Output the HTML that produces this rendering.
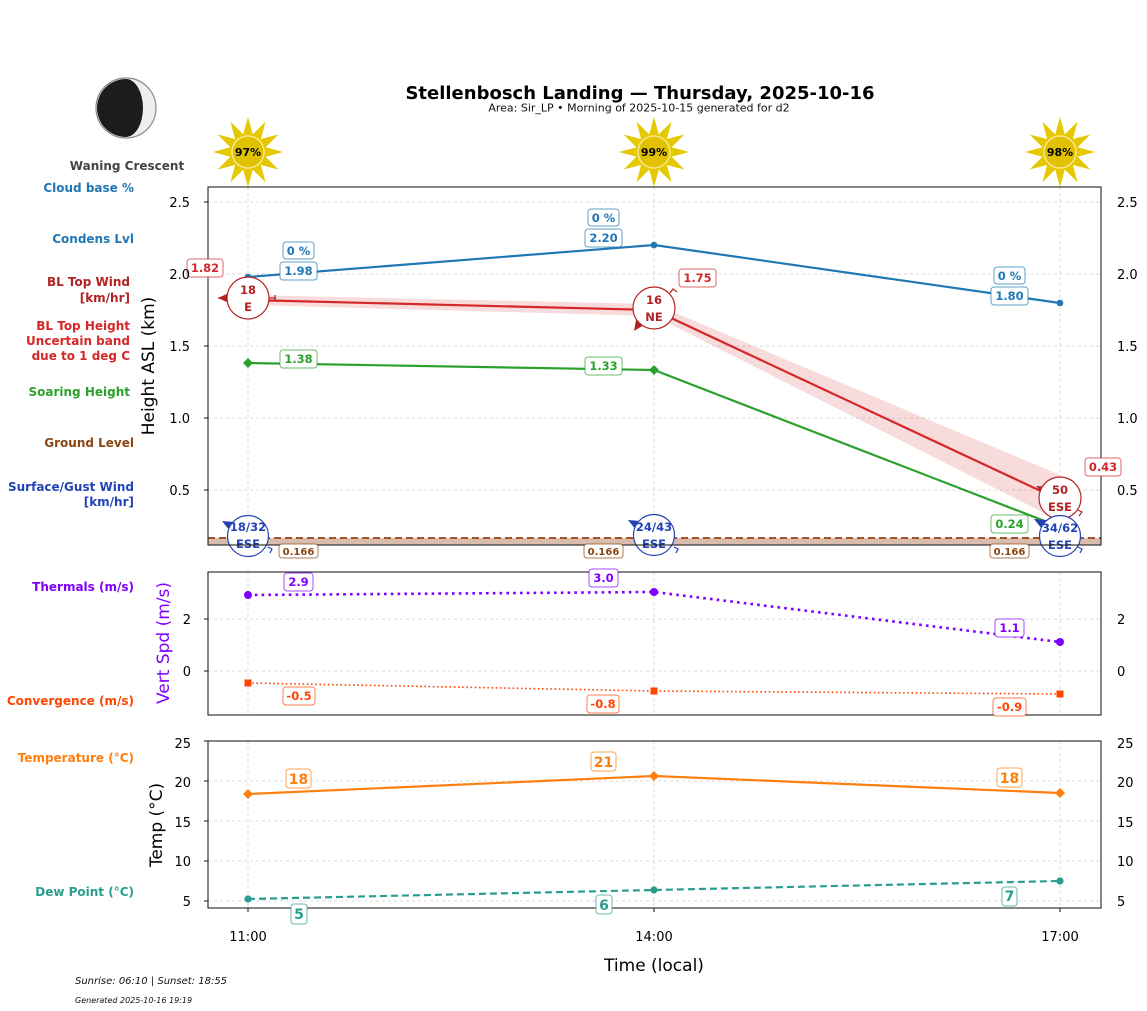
<!DOCTYPE html>
<html><head><meta charset="utf-8"><style>
html,body{margin:0;padding:0;background:#fff;}
svg{display:block;font-family:"DejaVu Sans","Liberation Sans",sans-serif;}
</style></head><body>
<svg width="1147" height="1011" viewBox="0 0 1147 1011" xmlns="http://www.w3.org/2000/svg">
<rect width="1147" height="1011" fill="#fff"/>

<!-- Title -->
<text x="640" y="99" font-size="18" font-weight="bold" text-anchor="middle" fill="#000">Stellenbosch Landing — Thursday, 2025-10-16</text>
<text x="639" y="111.5" font-size="11" text-anchor="middle" fill="#111">Area: Sir_LP • Morning of 2025-10-15 generated for d2</text>

<!-- Moon -->
<circle cx="126" cy="108" r="30" fill="#eeeeee" stroke="#8a8a8a" stroke-width="1.2"/>
<path d="M126,79 A29,29 0 0 0 126,137 A17,29 0 0 0 126,79 Z" fill="#1c1c1c"/>
<text x="127" y="170" font-size="12" font-weight="bold" text-anchor="middle" fill="#444">Waning Crescent</text>

<!-- Left legend labels -->
<g font-size="12" font-weight="bold" text-anchor="end">
<text x="134" y="192" fill="#1f77b4">Cloud base %</text>
<text x="134" y="243" fill="#1f77b4">Condens Lvl</text>
<text x="130" y="286" fill="#b22222">BL Top Wind</text>
<text x="130" y="302" fill="#b22222">[km/hr]</text>
<text x="130" y="330" fill="#d62728">BL Top Height</text>
<text x="130" y="345" fill="#d62728">Uncertain band</text>
<text x="130" y="360" fill="#d62728">due to 1 deg C</text>
<text x="130" y="396" fill="#2ca02c">Soaring Height</text>
<text x="134" y="447" fill="#8b4513">Ground Level</text>
<text x="134" y="491" fill="#2343b5">Surface/Gust Wind</text>
<text x="134" y="506" fill="#2343b5">[km/hr]</text>
<text x="134" y="591" fill="#7f00ff">Thermals (m/s)</text>
<text x="134" y="705" fill="#ff4500">Convergence (m/s)</text>
<text x="134" y="762" fill="#ff7f0e">Temperature (°C)</text>
<text x="134" y="896" fill="#2a9d8f">Dew Point (°C)</text>
</g>

<!-- Suns -->
<g id="sun1" transform="translate(248,152)">
<g fill="#e6c800">
<polygon points="0,-35 -6,-13 6,-13"/>
<polygon points="0,-35 -6,-13 6,-13" transform="rotate(30)"/>
<polygon points="0,-35 -6,-13 6,-13" transform="rotate(60)"/>
<polygon points="0,-35 -6,-13 6,-13" transform="rotate(90)"/>
<polygon points="0,-35 -6,-13 6,-13" transform="rotate(120)"/>
<polygon points="0,-35 -6,-13 6,-13" transform="rotate(150)"/>
<polygon points="0,-35 -6,-13 6,-13" transform="rotate(180)"/>
<polygon points="0,-35 -6,-13 6,-13" transform="rotate(210)"/>
<polygon points="0,-35 -6,-13 6,-13" transform="rotate(240)"/>
<polygon points="0,-35 -6,-13 6,-13" transform="rotate(270)"/>
<polygon points="0,-35 -6,-13 6,-13" transform="rotate(300)"/>
<polygon points="0,-35 -6,-13 6,-13" transform="rotate(330)"/>
</g>
<circle r="16" fill="#e2c200" stroke="#f6e690" stroke-width="1.5"/>
<text y="4" font-size="11" font-weight="bold" text-anchor="middle" fill="#000">97%</text>
</g>
<g transform="translate(654,152)">
<g fill="#e6c800">
<polygon points="0,-35 -6,-13 6,-13"/>
<polygon points="0,-35 -6,-13 6,-13" transform="rotate(30)"/>
<polygon points="0,-35 -6,-13 6,-13" transform="rotate(60)"/>
<polygon points="0,-35 -6,-13 6,-13" transform="rotate(90)"/>
<polygon points="0,-35 -6,-13 6,-13" transform="rotate(120)"/>
<polygon points="0,-35 -6,-13 6,-13" transform="rotate(150)"/>
<polygon points="0,-35 -6,-13 6,-13" transform="rotate(180)"/>
<polygon points="0,-35 -6,-13 6,-13" transform="rotate(210)"/>
<polygon points="0,-35 -6,-13 6,-13" transform="rotate(240)"/>
<polygon points="0,-35 -6,-13 6,-13" transform="rotate(270)"/>
<polygon points="0,-35 -6,-13 6,-13" transform="rotate(300)"/>
<polygon points="0,-35 -6,-13 6,-13" transform="rotate(330)"/>
</g>
<circle r="16" fill="#e2c200" stroke="#f6e690" stroke-width="1.5"/>
<text y="4" font-size="11" font-weight="bold" text-anchor="middle" fill="#000">99%</text>
</g>
<g transform="translate(1060,152)">
<g fill="#e6c800">
<polygon points="0,-35 -6,-13 6,-13"/>
<polygon points="0,-35 -6,-13 6,-13" transform="rotate(30)"/>
<polygon points="0,-35 -6,-13 6,-13" transform="rotate(60)"/>
<polygon points="0,-35 -6,-13 6,-13" transform="rotate(90)"/>
<polygon points="0,-35 -6,-13 6,-13" transform="rotate(120)"/>
<polygon points="0,-35 -6,-13 6,-13" transform="rotate(150)"/>
<polygon points="0,-35 -6,-13 6,-13" transform="rotate(180)"/>
<polygon points="0,-35 -6,-13 6,-13" transform="rotate(210)"/>
<polygon points="0,-35 -6,-13 6,-13" transform="rotate(240)"/>
<polygon points="0,-35 -6,-13 6,-13" transform="rotate(270)"/>
<polygon points="0,-35 -6,-13 6,-13" transform="rotate(300)"/>
<polygon points="0,-35 -6,-13 6,-13" transform="rotate(330)"/>
</g>
<circle r="16" fill="#e2c200" stroke="#f6e690" stroke-width="1.5"/>
<text y="4" font-size="11" font-weight="bold" text-anchor="middle" fill="#000">98%</text>
</g>

<!-- ===== Grids ===== -->
<g stroke="#cfcfcf" stroke-width="0.8" stroke-dasharray="3,3" fill="none">
<!-- top -->
<line x1="208" y1="202" x2="1101" y2="202"/>
<line x1="208" y1="274" x2="1101" y2="274"/>
<line x1="208" y1="346" x2="1101" y2="346"/>
<line x1="208" y1="418" x2="1101" y2="418"/>
<line x1="208" y1="490" x2="1101" y2="490"/>
<line x1="248" y1="187" x2="248" y2="545"/>
<line x1="654" y1="187" x2="654" y2="545"/>
<line x1="1060" y1="187" x2="1060" y2="545"/>
<!-- middle -->
<line x1="208" y1="619" x2="1101" y2="619"/>
<line x1="208" y1="671" x2="1101" y2="671"/>
<line x1="248" y1="572" x2="248" y2="715"/>
<line x1="654" y1="572" x2="654" y2="715"/>
<line x1="1060" y1="572" x2="1060" y2="715"/>
<!-- bottom -->
<line x1="208" y1="781" x2="1101" y2="781"/>
<line x1="208" y1="821" x2="1101" y2="821"/>
<line x1="208" y1="861" x2="1101" y2="861"/>
<line x1="208" y1="901" x2="1101" y2="901"/>
<line x1="248" y1="741" x2="248" y2="908"/>
<line x1="654" y1="741" x2="654" y2="908"/>
<line x1="1060" y1="741" x2="1060" y2="908"/>
</g>

<!-- ===== Top panel series ===== -->
<!-- uncertainty band -->
<polygon points="248,295 654,304 1060,475 1060,521 654,316 248,305" fill="#d62728" fill-opacity="0.16"/>
<!-- ground fill + line -->
<rect x="208" y="538" width="893" height="7" fill="#d9bcab"/>
<line x1="208" y1="538" x2="1101" y2="538" stroke="#a0522d" stroke-width="2" stroke-dasharray="7,4"/>
<!-- condens -->
<polyline points="248,277 654,245 1060,303" fill="none" stroke="#1f77b4" stroke-width="2.2"/>
<circle cx="248" cy="277" r="3.3" fill="#1f77b4"/>
<circle cx="654" cy="245" r="3.3" fill="#1f77b4"/>
<circle cx="1060" cy="303" r="3.3" fill="#1f77b4"/>
<!-- BL top -->
<polyline points="248,300 654,310 1060,500" fill="none" stroke="#d62728" stroke-width="2.2"/>
<!-- soaring -->
<polyline points="248,363 654,370 1060,527" fill="none" stroke="#2ca02c" stroke-width="2.2"/>
<polygon points="248,358 253,363 248,368 243,363" fill="#2ca02c"/>
<polygon points="654,365 659,370 654,375 649,370" fill="#2ca02c"/>

<!-- wind circles red -->
<g stroke="#b22222" fill="none" stroke-width="1.2">
<line x1="218" y1="298" x2="232" y2="298"/>
<line x1="264" y1="298" x2="276" y2="298"/>
<line x1="275" y1="295" x2="275" y2="301"/>
<polyline points="670,293 673,289 677,292"/>
<polyline points="1078,510 1082,512 1079,516"/>
</g>
<polygon points="218,298 229,293 229,303" fill="#b22222"/>
<polygon points="634,331 636,320 644,325" fill="#b22222"/>
<polygon points="1036,486 1049,487 1043,494" fill="#b22222"/>
<g fill="#fff" stroke="#b22222" stroke-width="1.2">
<circle cx="248" cy="298" r="21"/>
<circle cx="654" cy="308" r="21"/>
<circle cx="1060" cy="498" r="21"/>
</g>
<g fill="#b22222" font-size="11.5" font-weight="bold" text-anchor="middle">
<text x="248" y="294">18</text><text x="248" y="311">E</text>
<text x="654" y="304">16</text><text x="654" y="321">NE</text>
<text x="1060" y="494">50</text><text x="1060" y="511">ESE</text>
</g>

<!-- wind circles blue -->
<g stroke="#2343b5" fill="none" stroke-width="1.2">
<polyline points="268,547 272,549 270,553"/>
<polyline points="674,547 678,549 676,553"/>
<polyline points="1078,547 1082,549 1080,553"/>
</g>
<polygon points="222,521 234,522 230,531" fill="#2343b5"/>
<polygon points="628,520 640,521 636,530" fill="#2343b5"/>
<polygon points="1034,519 1046,520 1042,529" fill="#2343b5"/>
<g fill="#fff" stroke="#2343b5" stroke-width="1.2">
<circle cx="248" cy="536" r="20.5"/>
<circle cx="654" cy="535" r="20.5"/>
<circle cx="1060" cy="536" r="20.5"/>
</g>
<g fill="#2343b5" font-size="11.5" font-weight="bold" text-anchor="middle">
<text x="248" y="531">18/32</text><text x="248" y="548">ESE</text>
<text x="654" y="531">24/43</text><text x="654" y="548">ESE</text>
<text x="1060" y="532">34/62</text><text x="1060" y="549">ESE</text>
</g>

<!-- ===== Middle panel series ===== -->
<polyline points="248,683 654,691 1060,694" fill="none" stroke="#ff4500" stroke-width="1.6" stroke-dasharray="1.6,2.6"/>
<rect x="244.5" y="679.5" width="7" height="7" fill="#ff4500"/>
<rect x="650.5" y="687.5" width="7" height="7" fill="#ff4500"/>
<rect x="1056.5" y="690.5" width="7" height="7" fill="#ff4500"/>
<polyline points="248,595 654,592 1060,642" fill="none" stroke="#7f00ff" stroke-width="2.6" stroke-dasharray="2.6,4.2"/>
<circle cx="248" cy="595" r="4" fill="#7f00ff"/>
<circle cx="654" cy="592" r="4" fill="#7f00ff"/>
<circle cx="1060" cy="642" r="4" fill="#7f00ff"/>

<!-- ===== Bottom panel series ===== -->
<polyline points="248,794 654,776 1060,793" fill="none" stroke="#ff7f0e" stroke-width="2.2"/>
<polygon points="248,789 253,794 248,799 243,794" fill="#ff7f0e"/>
<polygon points="654,771 659,776 654,781 649,776" fill="#ff7f0e"/>
<polygon points="1060,788 1065,793 1060,798 1055,793" fill="#ff7f0e"/>
<polyline points="248,899 654,890 1060,881" fill="none" stroke="#2a9d8f" stroke-width="2.2" stroke-dasharray="7,4"/>
<circle cx="248" cy="899" r="3.6" fill="#2a9d8f"/>
<circle cx="654" cy="890" r="3.6" fill="#2a9d8f"/>
<circle cx="1060" cy="881" r="3.6" fill="#2a9d8f"/>

<!-- ===== Axes frames ===== -->
<g fill="none" stroke="#222" stroke-width="1.1">
<rect x="208" y="187" width="893" height="358"/>
<rect x="208" y="572" width="893" height="143"/>
<rect x="208" y="741" width="893" height="167"/>
<!-- left ticks -->
<line x1="204" y1="202" x2="208" y2="202"/>
<line x1="204" y1="274" x2="208" y2="274"/>
<line x1="204" y1="346" x2="208" y2="346"/>
<line x1="204" y1="418" x2="208" y2="418"/>
<line x1="204" y1="490" x2="208" y2="490"/>
<line x1="204" y1="619" x2="208" y2="619"/>
<line x1="204" y1="671" x2="208" y2="671"/>
<line x1="204" y1="741" x2="208" y2="741"/>
<line x1="204" y1="781" x2="208" y2="781"/>
<line x1="204" y1="821" x2="208" y2="821"/>
<line x1="204" y1="861" x2="208" y2="861"/>
<line x1="204" y1="901" x2="208" y2="901"/>
<line x1="248" y1="908" x2="248" y2="912"/>
<line x1="654" y1="908" x2="654" y2="912"/>
<line x1="1060" y1="908" x2="1060" y2="912"/>
</g>

<!-- ===== Value label boxes ===== -->
<g font-weight="bold" text-anchor="middle">
<!-- blue -->
<g font-size="11.5" fill="#1f77b4">
<rect x="283" y="242" width="31" height="17" rx="3" fill="#fff" stroke="#1f77b4" stroke-opacity="0.7"/>
<text x="298.5" y="255">0 %</text>
<rect x="280" y="262" width="37" height="18" rx="3" fill="#fff" stroke="#1f77b4" stroke-opacity="0.7"/>
<text x="298.5" y="275">1.98</text>
<rect x="588" y="209" width="31" height="17" rx="3" fill="#fff" stroke="#1f77b4" stroke-opacity="0.7"/>
<text x="603.5" y="222">0 %</text>
<rect x="585" y="229" width="37" height="18" rx="3" fill="#fff" stroke="#1f77b4" stroke-opacity="0.7"/>
<text x="603.5" y="242">2.20</text>
<rect x="994" y="267" width="31" height="17" rx="3" fill="#fff" stroke="#1f77b4" stroke-opacity="0.7"/>
<text x="1009.5" y="280">0 %</text>
<rect x="991" y="287" width="37" height="18" rx="3" fill="#fff" stroke="#1f77b4" stroke-opacity="0.7"/>
<text x="1009.5" y="300">1.80</text>
</g>
<!-- red -->
<g font-size="11.5" fill="#d62728">
<rect x="187" y="259" width="36" height="18" rx="3" fill="#fff" stroke="#d62728" stroke-opacity="0.7"/>
<text x="205" y="272">1.82</text>
<rect x="679" y="269" width="37" height="18" rx="3" fill="#fff" stroke="#d62728" stroke-opacity="0.7"/>
<text x="697.5" y="282">1.75</text>
<rect x="1085" y="458" width="36" height="18" rx="3" fill="#fff" stroke="#d62728" stroke-opacity="0.7"/>
<text x="1103" y="471">0.43</text>
</g>
<!-- green -->
<g font-size="11.5" fill="#2ca02c">
<rect x="280" y="350" width="37" height="18" rx="3" fill="#fff" stroke="#2ca02c" stroke-opacity="0.7"/>
<text x="298.5" y="363">1.38</text>
<rect x="585" y="357" width="37" height="18" rx="3" fill="#fff" stroke="#2ca02c" stroke-opacity="0.7"/>
<text x="603.5" y="370">1.33</text>
<rect x="991" y="515" width="37" height="18" rx="3" fill="#fff" stroke="#2ca02c" stroke-opacity="0.7"/>
<text x="1009.5" y="528">0.24</text>
</g>
<!-- ground -->
<g font-size="10" fill="#8b4513">
<rect x="279" y="544" width="39" height="14" rx="3" fill="#fff" stroke="#8b4513" stroke-opacity="0.7"/>
<text x="298.5" y="555">0.166</text>
<rect x="584" y="544" width="39" height="14" rx="3" fill="#fff" stroke="#8b4513" stroke-opacity="0.7"/>
<text x="603.5" y="555">0.166</text>
<rect x="990" y="544" width="39" height="14" rx="3" fill="#fff" stroke="#8b4513" stroke-opacity="0.7"/>
<text x="1009.5" y="555">0.166</text>
</g>
<!-- thermals -->
<g font-size="11.5" fill="#7f00ff">
<rect x="284" y="573" width="29" height="18" rx="3" fill="#fff" stroke="#7f00ff" stroke-opacity="0.7"/>
<text x="298.5" y="586">2.9</text>
<rect x="589" y="569" width="29" height="18" rx="3" fill="#fff" stroke="#7f00ff" stroke-opacity="0.7"/>
<text x="603.5" y="582">3.0</text>
<rect x="995" y="619" width="29" height="18" rx="3" fill="#fff" stroke="#7f00ff" stroke-opacity="0.7"/>
<text x="1009.5" y="632">1.1</text>
</g>
<!-- convergence -->
<g font-size="11.5" fill="#ff4500">
<rect x="283" y="687" width="32" height="18" rx="3" fill="#fff" stroke="#ff4500" stroke-opacity="0.7"/>
<text x="299" y="700">-0.5</text>
<rect x="587" y="695" width="32" height="18" rx="3" fill="#fff" stroke="#ff4500" stroke-opacity="0.7"/>
<text x="603" y="708">-0.8</text>
<rect x="993" y="698" width="33" height="18" rx="3" fill="#fff" stroke="#ff4500" stroke-opacity="0.7"/>
<text x="1009.5" y="711">-0.9</text>
</g>
<!-- temperature -->
<g font-size="14" fill="#ff7f0e">
<rect x="286" y="769" width="25" height="19" rx="3" fill="#fff" stroke="#ff7f0e" stroke-opacity="0.7"/>
<text x="298.5" y="784">18</text>
<rect x="591" y="752" width="25" height="19" rx="3" fill="#fff" stroke="#ff7f0e" stroke-opacity="0.7"/>
<text x="603.5" y="767">21</text>
<rect x="997" y="768" width="25" height="19" rx="3" fill="#fff" stroke="#ff7f0e" stroke-opacity="0.7"/>
<text x="1009.5" y="783">18</text>
</g>
<!-- dew -->
<g font-size="14" fill="#2a9d8f">
<rect x="291" y="904" width="16" height="20" rx="3" fill="#fff" stroke="#2a9d8f" stroke-opacity="0.7"/>
<text x="299" y="919">5</text>
<rect x="596" y="895" width="16" height="19" rx="3" fill="#fff" stroke="#2a9d8f" stroke-opacity="0.7"/>
<text x="604" y="910">6</text>
<rect x="1002" y="887" width="15" height="19" rx="3" fill="#fff" stroke="#2a9d8f" stroke-opacity="0.7"/>
<text x="1009.5" y="901">7</text>
</g>
</g>

<!-- ===== Tick labels ===== -->
<g font-size="13" fill="#000">
<g text-anchor="end">
<text x="190" y="207">2.5</text>
<text x="190" y="279">2.0</text>
<text x="190" y="351">1.5</text>
<text x="190" y="423">1.0</text>
<text x="190" y="495">0.5</text>
<text x="191" y="624">2</text>
<text x="191" y="676">0</text>
<text x="191" y="748">25</text>
<text x="191" y="787">20</text>
<text x="191" y="827">15</text>
<text x="191" y="866">10</text>
<text x="191" y="906">5</text>
</g>
<g text-anchor="start">
<text x="1117" y="207">2.5</text>
<text x="1117" y="279">2.0</text>
<text x="1117" y="351">1.5</text>
<text x="1117" y="423">1.0</text>
<text x="1117" y="495">0.5</text>
<text x="1117" y="624">2</text>
<text x="1117" y="676">0</text>
<text x="1117" y="748">25</text>
<text x="1117" y="787">20</text>
<text x="1117" y="827">15</text>
<text x="1117" y="866">10</text>
<text x="1117" y="906">5</text>
</g>
<g text-anchor="middle">
<text x="248" y="941">11:00</text>
<text x="654" y="941">14:00</text>
<text x="1060" y="941">17:00</text>
</g>
</g>

<!-- Axis labels -->
<text transform="translate(154,366) rotate(-90)" font-size="17" text-anchor="middle" fill="#000">Height ASL (km)</text>
<text transform="translate(169,643) rotate(-90)" font-size="17" text-anchor="middle" fill="#7f00ff">Vert Spd (m/s)</text>
<text transform="translate(162,825) rotate(-90)" font-size="17" text-anchor="middle" fill="#000">Temp (°C)</text>
<text x="654" y="971" font-size="17" text-anchor="middle" fill="#000">Time (local)</text>

<!-- Footer -->
<text x="75" y="984" font-size="10" font-style="italic" fill="#111">Sunrise: 06:10 | Sunset: 18:55</text>
<text x="75" y="1003" font-size="8" font-style="italic" fill="#111">Generated 2025-10-16 19:19</text>
</svg>
</body></html>
